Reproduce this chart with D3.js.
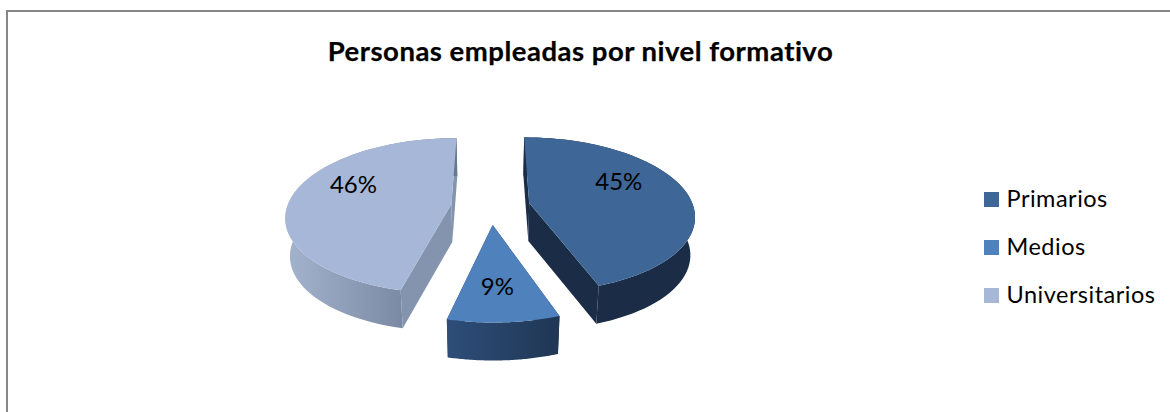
<!DOCTYPE html>
<html><head><meta charset="utf-8">
<script src="https://cdn.jsdelivr.net/npm/d3@7/dist/d3.min.js"></script>
<style>html,body{margin:0;padding:0;background:#fff}svg{display:block}text{font-family:Lato,"Open Sans",sans-serif;fill:#000}</style>
</head><body><svg id="c" width="1170" height="412"></svg>
<script>
const titleText = "Personas empleadas por nivel formativo";
const categories = ["Primarios", "Medios", "Universitarios"];
const values = [44.6, 9.1, 46.3];
const labels = ["45%", "9%", "46%"];
const topColors = ["#3e6797", "#4f81bd", "#a7b7d7"];
const wallColors = ["#1a2c46", "#223c5e", "#8494ae"];
const sideStops = [["#1a2c46", "#1a2c46"], ["#2d4d79", "#203754"], ["#a5b4ce", "#687690"]];
const labelNudges = [[3, -14], [-1, 13], [-10, -14]];

const W = 1170, H = 412;
const svg = d3.select("#c");
const defs = svg.append("defs");
const cx = 490.5, cy = 206, R = 164, explode = 39.5, depth = 38;
const vanishY = -300, g = 0.00092;

const project = (u, v, z = 0) => {
  const s = 1 / (1 - g * v);
  return [cx + u * s * (1 - z * 0.0006), vanishY + (cy - vanishY) * s + z];
};

svg.append("path")
  .attr("d", d3.line()([[7, H], [7, 11], [W, 11]]))
  .attr("fill", "none").attr("stroke", "#878787").attr("stroke-width", 2);

svg.append("text").attr("x", 580.5).attr("y", 61).attr("text-anchor", "middle")
  .attr("font-size", 27.5).attr("font-weight", 700).attr("letter-spacing", 0.5)
  .attr("stroke", "#000").attr("stroke-width", 0.25).text(titleText);

const color = d3.scaleOrdinal(categories, topColors);
const arcs = d3.pie().sort(null)(values);
const line = d3.line();

arcs.forEach((a, i) => {
  const mid = (a.startAngle + a.endAngle) / 2;
  const ou = explode * Math.sin(mid), ov = -explode * Math.cos(mid);
  const angles = d3.range(0, 61).map(k => d3.interpolateNumber(a.startAngle, a.endAngle)(k / 60));
  const rim = z => angles.map(t => project(ou + R * Math.sin(t), ov - R * Math.cos(t), z));
  const apex = z => project(ou, ov, z);
  const top = rim(0), low = rim(depth);

  const grad = defs.append("linearGradient").attr("id", "side" + i)
    .attr("gradientUnits", "userSpaceOnUse")
    .attr("x1", d3.min(top, d => d[0])).attr("x2", d3.max(top, d => d[0]))
    .attr("y1", 0).attr("y2", 0);
  grad.append("stop").attr("offset", 0).attr("stop-color", sideStops[i][0]);
  grad.append("stop").attr("offset", 1).attr("stop-color", sideStops[i][1]);

  const G = svg.append("g");
  [top[0], top[top.length - 1]].forEach((p, j) => {
    const q = j === 0 ? low[0] : low[low.length - 1];
    G.append("path").attr("d", line([apex(0), p, q, apex(depth)]) + "Z").attr("fill", wallColors[i]);
  });
  G.append("path").attr("d", line(top.concat(low.slice().reverse())) + "Z").attr("fill", `url(#side${i})`);
  G.append("path").attr("d", line([apex(0), ...top]) + "Z").attr("fill", color(categories[i]));

  const lr = explode + R * 0.55;
  const lp = project(lr * Math.sin(mid), -lr * Math.cos(mid));
  svg.append("text").attr("x", lp[0] + labelNudges[i][0]).attr("y", lp[1] + labelNudges[i][1] + 8)
    .attr("text-anchor", "middle").attr("font-size", 24).text(labels[i]);
});

const legendY = d3.scaleLinear().domain([0, 2]).range([199.5, 295.5]);
categories.forEach((c, i) => {
  svg.append("rect").attr("x", 984).attr("y", legendY(i) - 7.5).attr("width", 15).attr("height", 15).attr("fill", color(c));
  svg.append("text").attr("x", 1006.5).attr("y", legendY(i) + 7.5).attr("font-size", 23.5).attr("letter-spacing", 0.5).text(c);
});
</script></body></html>
